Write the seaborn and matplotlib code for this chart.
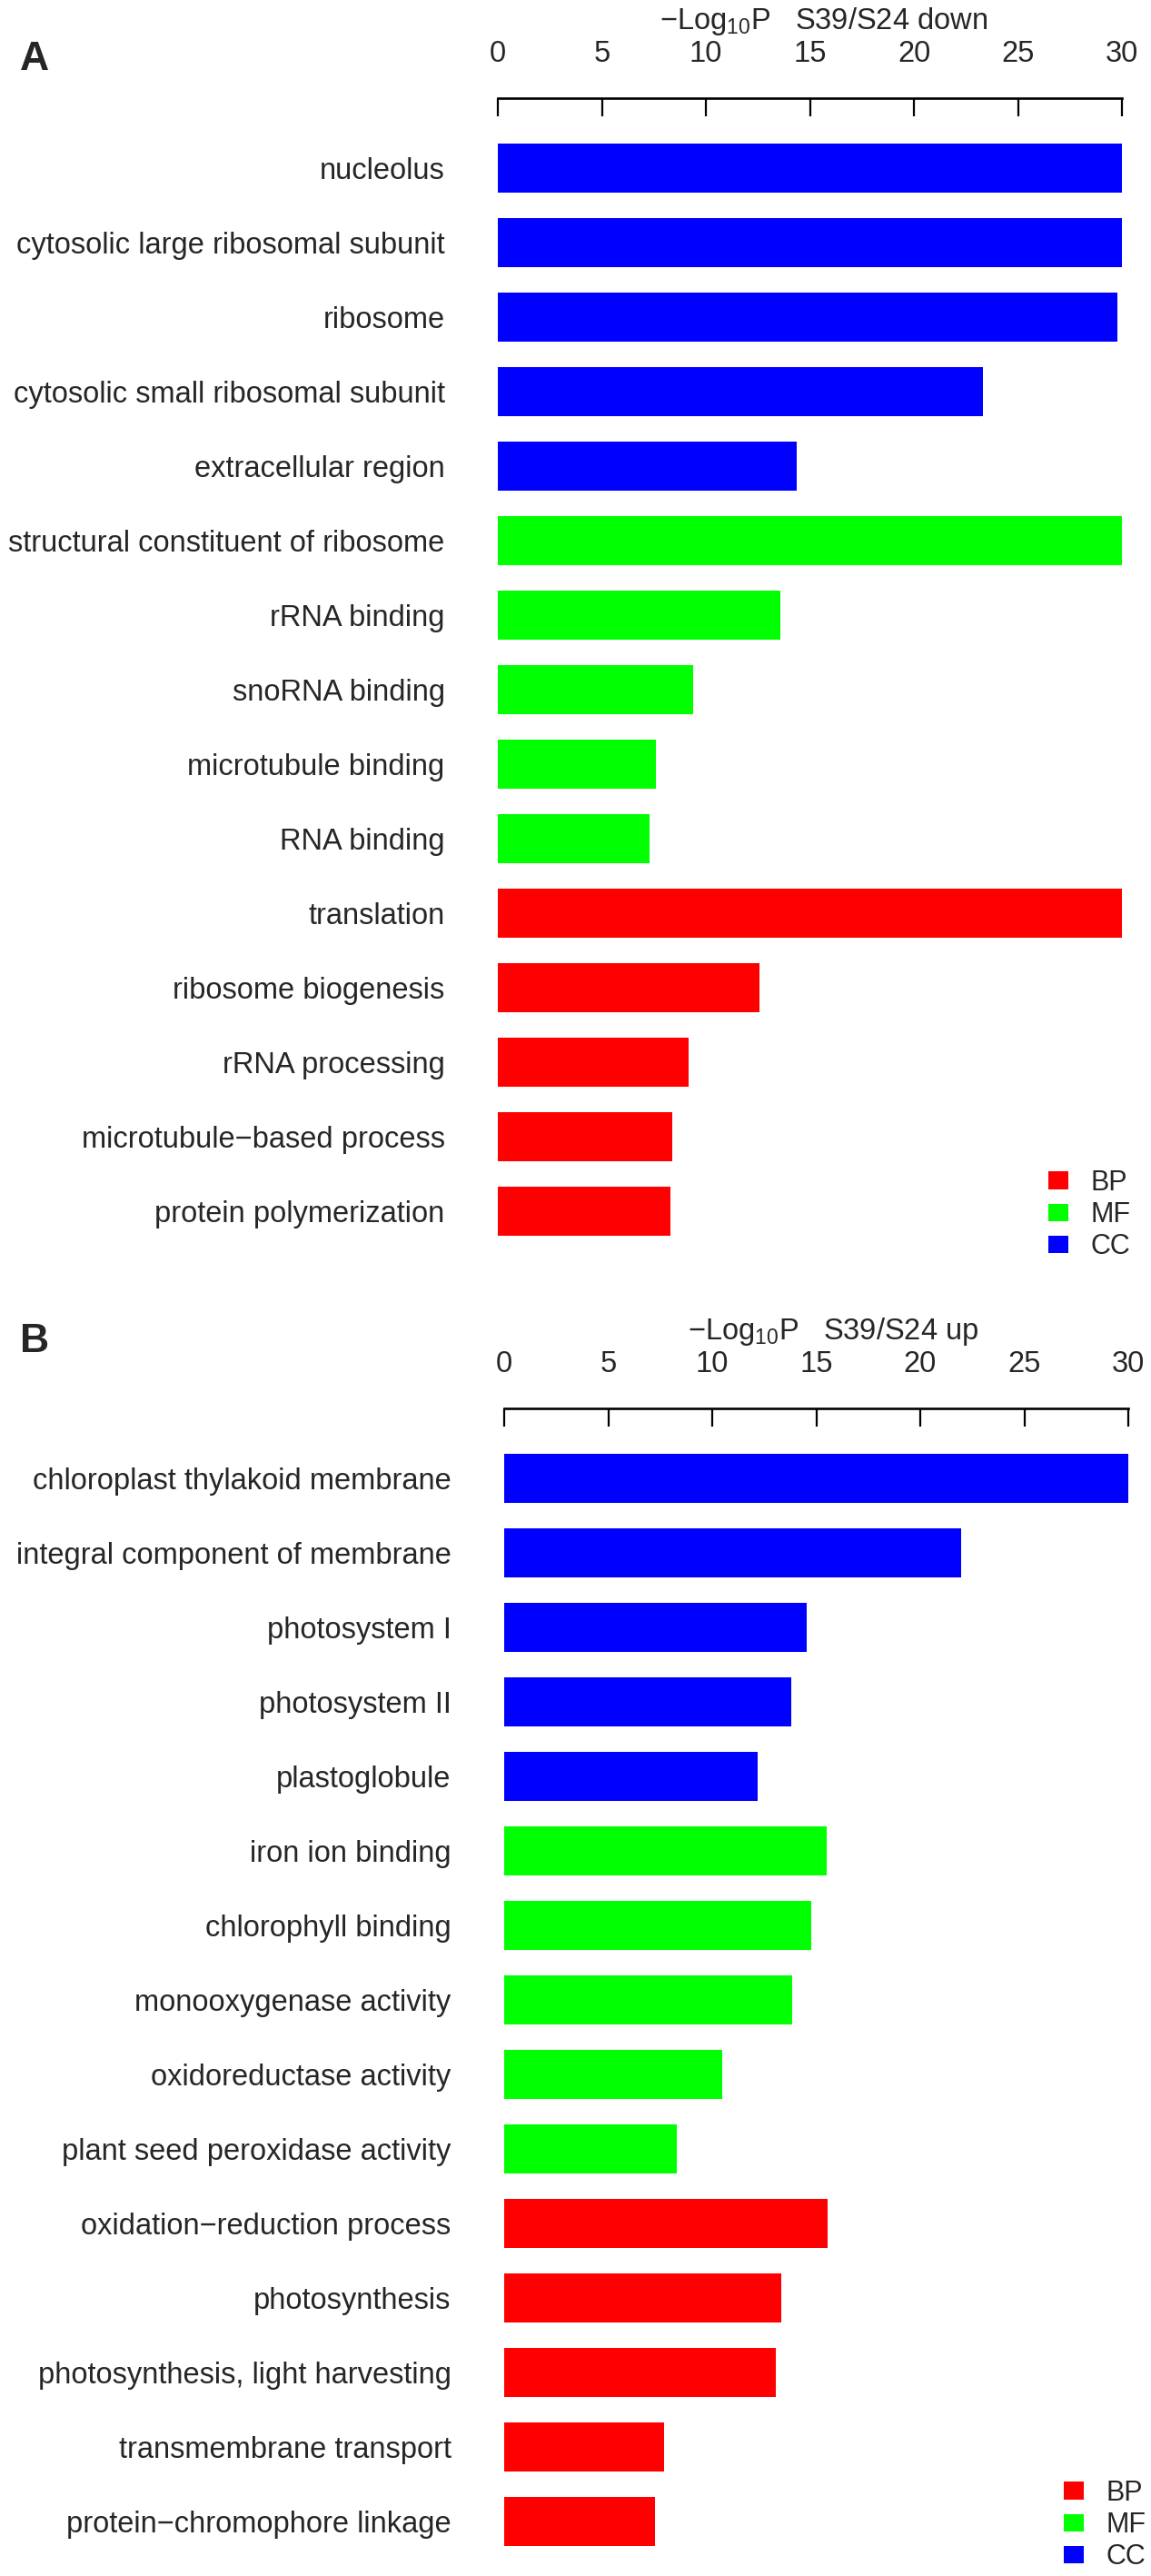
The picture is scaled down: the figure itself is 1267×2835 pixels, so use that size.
import matplotlib
matplotlib.use("Agg")
import matplotlib.pyplot as plt
import seaborn as sns
import pandas as pd
from matplotlib.patches import Patch

# ---------------- data ----------------
terms_a = ["nucleolus", "cytosolic large ribosomal subunit", "ribosome",
           "cytosolic small ribosomal subunit", "extracellular region",
           "structural constituent of ribosome", "rRNA binding", "snoRNA binding",
           "microtubule binding", "RNA binding", "translation", "ribosome biogenesis",
           "rRNA processing", "microtubule\u2212based process", "protein polymerization"]
cats_a = ["CC"] * 5 + ["MF"] * 5 + ["BP"] * 5
vals_a = [30.0, 30.0, 29.78, 23.33, 14.35,
          30.0, 13.6, 9.41, 7.6, 7.28,
          30.0, 12.59, 9.16, 8.39, 8.31]

terms_b = ["chloroplast thylakoid membrane", "integral component of membrane",
           "photosystem I", "photosystem II", "plastoglobule",
           "iron ion binding", "chlorophyll binding", "monooxygenase activity",
           "oxidoreductase activity", "plant seed peroxidase activity",
           "oxidation\u2212reduction process", "photosynthesis",
           "photosynthesis, light harvesting", "transmembrane transport",
           "protein\u2212chromophore linkage"]
cats_b = ["CC"] * 5 + ["MF"] * 5 + ["BP"] * 5
vals_b = [30.0, 21.95, 14.54, 13.79, 12.19,
          15.52, 14.75, 13.83, 10.47, 8.30,
          15.54, 13.33, 13.06, 7.67, 7.24]

legend_order = ["BP", "MF", "CC"]
palette = {"BP": "#FF0000", "MF": "#00FF00", "CC": "#0000FF"}
xticks = [0, 5, 10, 15, 20, 25, 30]
title_a = "\u2212Log$_{10}$P   S39/S24 down"
title_b = "\u2212Log$_{10}$P   S39/S24 up"

# ---------------- style ----------------
sns.set_theme(style="white")
plt.rcParams["font.family"] = ["Liberation Sans", "DejaVu Sans"]
plt.rcParams["mathtext.fontset"] = "custom"
plt.rcParams["mathtext.rm"] = "Liberation Sans"
plt.rcParams["mathtext.it"] = "Liberation Sans:italic"
plt.rcParams["mathtext.bf"] = "Liberation Sans:bold"
plt.rcParams["mathtext.default"] = "regular"

W, H = 1267, 2835
fig = plt.figure(figsize=(W / 100, H / 100), dpi=100)

FS_LAB = 23.5
FS_TICK = 23.5
FS_TITLE = 23.5
FS_LEG = 22
FS_LET = 32


def panel(terms, cats, vals, left, right, top, bottom, title, title_x,
          title_base, letter, letter_base, leg_x, leg_y):
    ax = fig.add_axes([left / W, 1 - bottom / H, (right - left) / W, (bottom - top) / H])
    df = pd.DataFrame({"term": terms, "cat": cats, "val": vals})
    sns.barplot(data=df, x="val", y="term", hue="cat", order=terms,
                hue_order=legend_order, palette=palette, dodge=False,
                saturation=1, width=0.67, linewidth=0, legend=False, ax=ax)
    ax.set_xlim(0, 30)
    ax.set_ylim(14.5, -0.939)
    ax.set_xlabel("")
    ax.set_ylabel("")
    for s in ["left", "right", "bottom"]:
        ax.spines[s].set_visible(False)
    ax.spines["top"].set_visible(True)
    ax.spines["top"].set_linewidth(1.9)
    ax.spines["top"].set_color("black")
    ax.xaxis.tick_top()
    ax.set_xticks(xticks)
    ax.set_xticklabels([str(t) for t in xticks])
    ax.tick_params(axis="x", direction="in", length=14.4, width=1.6,
                   color="black", pad=24, labelsize=FS_TICK, top=True, bottom=False)
    ax.tick_params(axis="y", length=0, pad=42, labelsize=FS_LAB)
    ax.grid(False)
    fig.text(title_x / W, 1 - title_base / H, title, ha="center", va="baseline",
             fontsize=FS_TITLE)
    fig.text(22 / W, 1 - letter_base / H, letter, ha="left", va="baseline",
             fontsize=FS_LET, fontweight="bold")
    handles = [Patch(facecolor=palette[c], edgecolor="none") for c in legend_order]
    fig.legend(handles, legend_order, loc="center left",
               bbox_to_anchor=(leg_x / W, 1 - leg_y / H), frameon=False,
               fontsize=FS_LEG, handlelength=0.72, handleheight=0.59,
               handletextpad=0.8, labelspacing=0.17, borderpad=0, borderaxespad=0)
    return ax


panel(terms_a, cats_a, vals_a, 548, 1235, 108, 1374, title_a, 907, 32, "A", 77,
      1154, 1337)
panel(terms_b, cats_b, vals_b, 555, 1242, 1550, 2816, title_b, 917, 1474, "B", 1488,
      1171, 2779)

fig.savefig("out.png", dpi=100)
